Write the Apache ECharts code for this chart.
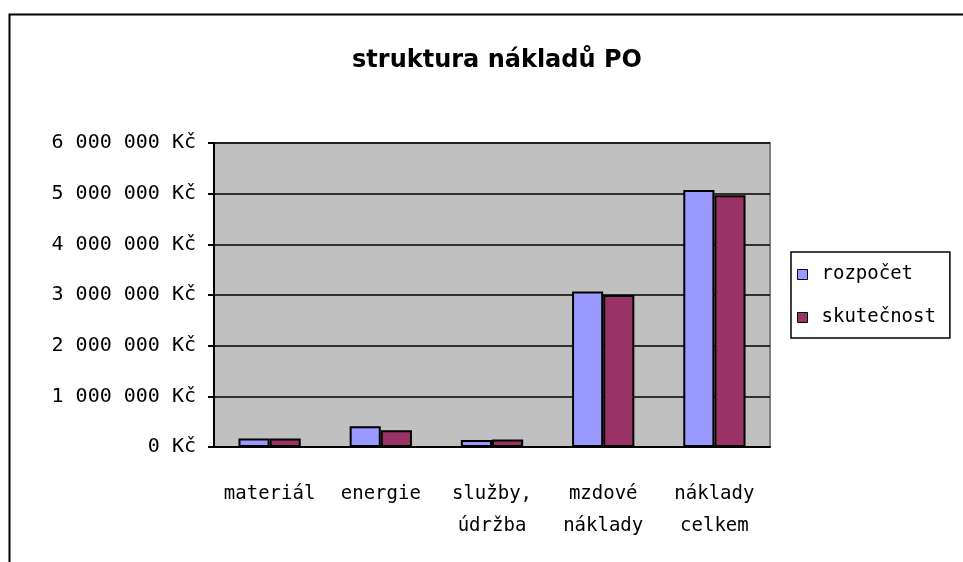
<!DOCTYPE html>
<html lang="cs">
<head>
  <meta charset="UTF-8">
  <title>struktura nákladů PO</title>
  <script src="https://cdn.jsdelivr.net/npm/echarts@6.0.0/dist/echarts.min.js"></script>
  <style>
    html, body { margin: 0; padding: 0; background: #fff; }
  </style>
</head>
<body>
<div id="chart" style="width: 963px; height: 562px;"></div>

<script>
  // data
  var categories = ['materiál', 'energie', 'služby,\núdržba', 'mzdové\nnáklady', 'náklady\ncelkem'];
  var rozpocet = [170000, 410000, 140000, 3070000, 5070000];
  var skutecnost = [170000, 330000, 150000, 3000000, 4970000];

  var font = '"DejaVu Sans Mono", monospace';

  // 6000000 -> "6 000 000 Kč"
  function kc(v) {
    return String(v).replace(/\B(?=(\d{3})+(?!\d))/g, ' ') + ' Kč';
  }

  var myChart = echarts.init(document.getElementById('chart'));

  var option = {
    backgroundColor: '#fff',
    animation: false,
    title: {
      text: 'struktura nákladů PO',
      left: 492,
      top: 44,
      textAlign: 'center',
      textStyle: { fontFamily: '"DejaVu Sans", sans-serif', fontSize: 24, fontWeight: 'bold', color: '#000' }
    },
    legend: {
      orient: 'vertical',
      left: 791,
      top: 252,
      padding: [13, 14, 11, 6],
      itemGap: 24,
      itemWidth: 10,
      itemHeight: 10,
      icon: 'rect',
      borderColor: '#000',
      borderWidth: 1.5,
      itemStyle: { borderColor: '#000', borderWidth: 1 },
      textStyle: { fontFamily: font, fontSize: 19, color: '#000', padding: [0, 0, 0, 9] },
      data: ['rozpočet', 'skutečnost']
    },
    grid: {
      left: 214,
      right: 193,
      top: 143,
      bottom: 115,
      show: true,
      backgroundColor: '#c0c0c0',
      borderColor: '#808080',
      borderWidth: 2
    },
    xAxis: {
      type: 'category',
      data: categories,
      axisLine: { lineStyle: { color: '#000', width: 2 } },
      axisTick: { length: 7, lineStyle: { color: '#000', width: 2 } },
      axisLabel: {
        margin: 31,
        color: '#000',
        fontFamily: font,
        fontSize: 19,
        lineHeight: 32,
        interval: 0
      }
    },
    yAxis: {
      type: 'value',
      min: 0,
      max: 6000000,
      interval: 1000000,
      axisLine: { show: true, lineStyle: { color: '#000', width: 2 } },
      axisTick: { show: true, length: 6, lineStyle: { color: '#000', width: 2 } },
      splitLine: { lineStyle: { color: '#000', width: 1.5 } },
      axisLabel: {
        margin: 18,
        color: '#000',
        fontFamily: font,
        fontSize: 20,
        formatter: kc
      }
    },
    series: [
      {
        name: 'rozpočet',
        type: 'bar',
        data: rozpocet,
        barGap: '0%',
        barCategoryGap: '44%',
        itemStyle: { color: '#9999ff', borderColor: '#000', borderWidth: 2 }
      },
      {
        name: 'skutečnost',
        type: 'bar',
        data: skutecnost,
        itemStyle: { color: '#993366', borderColor: '#000', borderWidth: 2 }
      }
    ],
    graphic: [
      {
        // outer chart frame, runs off the right and bottom edge
        type: 'rect',
        left: 7,
        top: 12,
        shape: { width: 1000, height: 600 },
        style: { fill: null, stroke: '#000', lineWidth: 2 },
        silent: true
      }
    ]
  };

  myChart.setOption(option);
</script>
</body>
</html>
